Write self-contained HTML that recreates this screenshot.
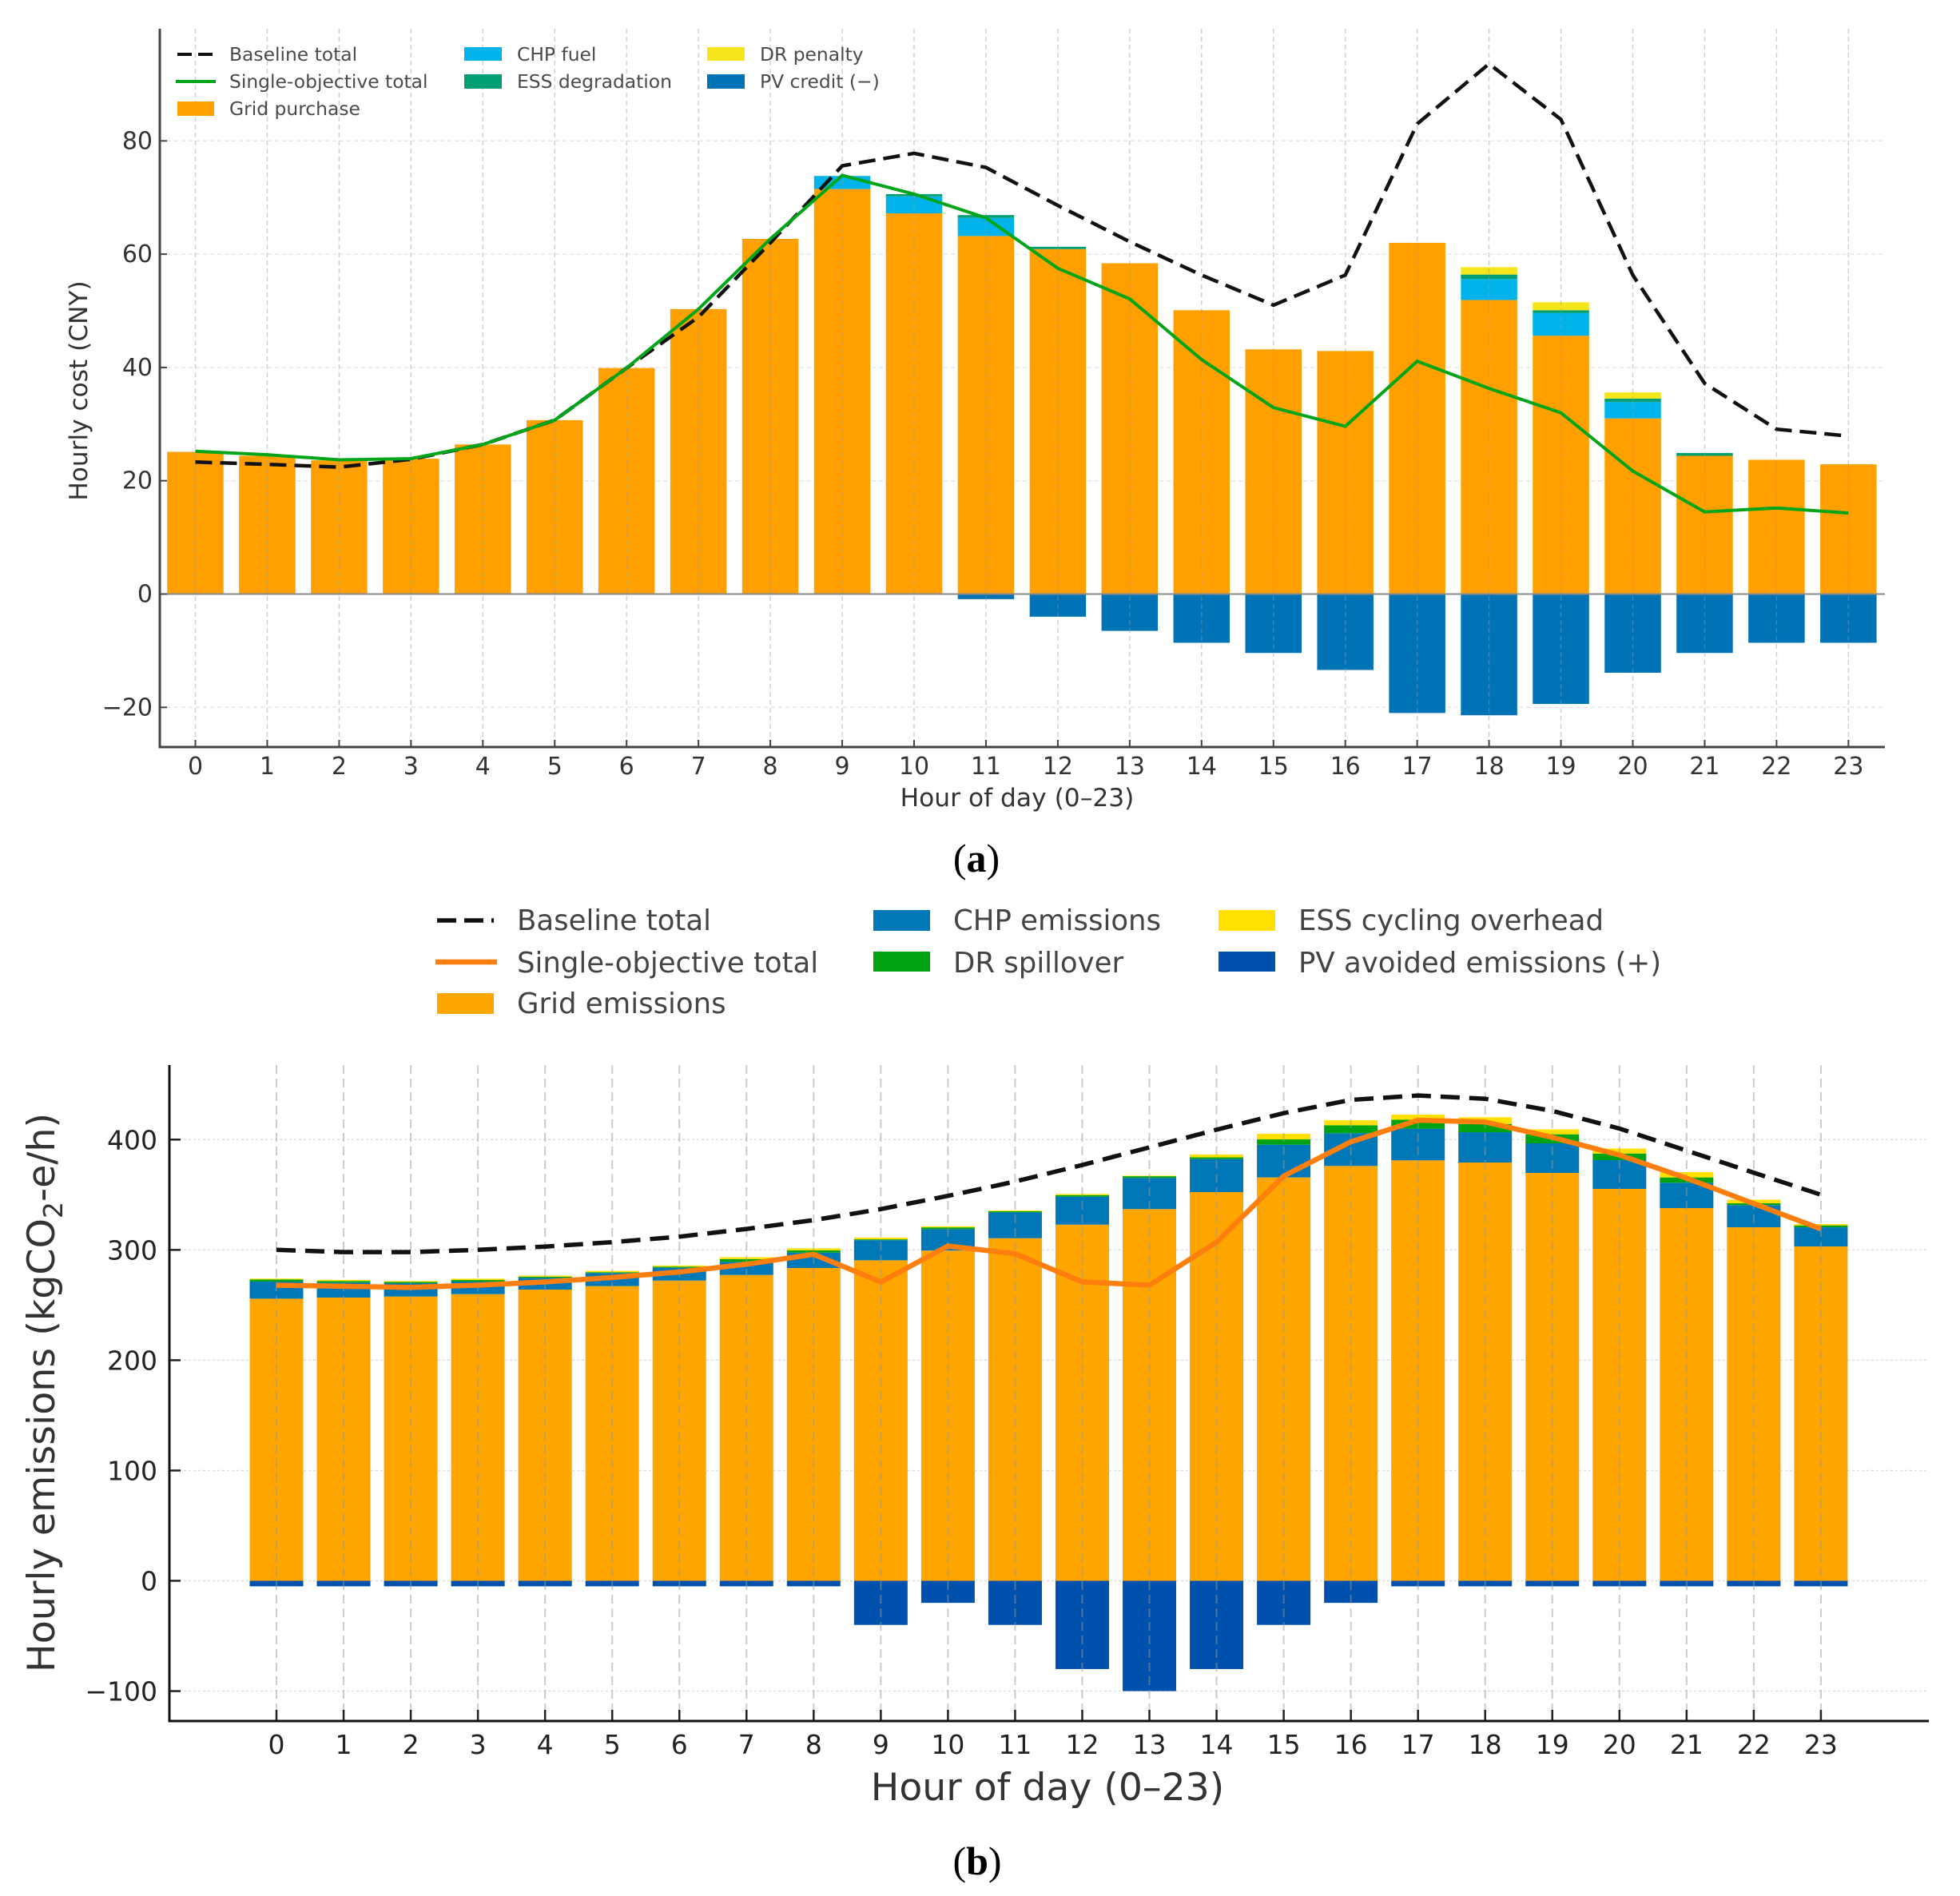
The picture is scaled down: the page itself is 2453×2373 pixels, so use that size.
<!DOCTYPE html>
<html lang="en">
<head>
<meta charset="utf-8">
<title>Hourly cost and emissions</title>
<style>
html,body{margin:0;padding:0;background:#fff;width:2453px;height:2373px;overflow:hidden}
svg{display:block}
text{font-family:"DejaVu Sans","Liberation Sans",sans-serif}
.leg-a{font-size:23.4px;fill:#4a4a4a}
.leg-b{font-size:35.5px;fill:#444}
.cap{font-family:"Liberation Serif",serif;font-size:50px;fill:#000}
</style>
</head>
<body>
<svg id="fig" xmlns="http://www.w3.org/2000/svg" width="2453" height="2373" viewBox="0 0 2453 2373">
  <g id="panel-a"></g>
  <g id="legend-a">
    <line x1="222" x2="267" y1="68" y2="68" stroke="#111" stroke-width="4" stroke-dasharray="18 8"/>
    <text class="leg-a" x="287" y="76">Baseline total</text>
    <line x1="220" x2="270" y1="102" y2="102" stroke="#00a51a" stroke-width="4"/>
    <text class="leg-a" x="287" y="110">Single-objective total</text>
    <rect x="222" y="127" width="46" height="18" fill="#ffa000"/>
    <text class="leg-a" x="287" y="144">Grid purchase</text>
    <rect x="581" y="59" width="47" height="17" fill="#00b4eb"/>
    <text class="leg-a" x="647" y="76">CHP fuel</text>
    <rect x="581" y="93" width="47" height="18" fill="#009e73"/>
    <text class="leg-a" x="647" y="110">ESS degradation</text>
    <rect x="885" y="59" width="47" height="17" fill="#f5e51b"/>
    <text class="leg-a" x="951" y="76">DR penalty</text>
    <rect x="885" y="93" width="47" height="18" fill="#0072b6"/>
    <text class="leg-a" x="951" y="110">PV credit (−)</text>
  </g>
  <text class="cap" x="1222" y="1091" text-anchor="middle">(<tspan font-weight="bold">a</tspan>)</text>
  <g id="legend-b">
    <line x1="547" x2="618" y1="1152" y2="1152" stroke="#111" stroke-width="5.5" stroke-dasharray="24 10"/>
    <text class="leg-b" x="647" y="1164">Baseline total</text>
    <line x1="545" x2="622" y1="1204" y2="1204" stroke="#ff7f0e" stroke-width="6.5"/>
    <text class="leg-b" x="647" y="1217">Single-objective total</text>
    <rect x="547" y="1243" width="71" height="26" fill="#ffa500"/>
    <text class="leg-b" x="647" y="1268">Grid emissions</text>
    <rect x="1093" y="1139" width="71" height="26" fill="#0077b6"/>
    <text class="leg-b" x="1193" y="1164">CHP emissions</text>
    <rect x="1093" y="1191" width="71" height="25" fill="#00a312"/>
    <text class="leg-b" x="1193" y="1217">DR spillover</text>
    <rect x="1525" y="1139" width="71" height="26" fill="#ffe000"/>
    <text class="leg-b" x="1625" y="1164">ESS cycling overhead</text>
    <rect x="1525" y="1191" width="71" height="25" fill="#0050ae"/>
    <text class="leg-b" x="1625" y="1217">PV avoided emissions (+)</text>
  </g>
  <g id="panel-b"></g>
  <text class="cap" x="1223" y="2346" text-anchor="middle">(<tspan font-weight="bold">b</tspan>)</text>
</svg>
<script>
const hours = [0,1,2,3,4,5,6,7,8,9,10,11,12,13,14,15,16,17,18,19,20,21,22,23];

const costYTicks = [-20,0,20,40,60,80];
const costGrid = [25.1,24.4,23.6,23.9,26.4,30.7,39.9,50.3,62.7,71.5,67.2,63.2,60.9,58.4,50.1,43.2,42.9,62.0,51.9,45.6,31.0,24.4,23.7,22.9];
const costChp = [0,0,0,0,0,0,0,0,0,2.3,3.0,3.2,0,0,0,0,0,0,3.7,4.0,2.9,0,0,0];
const costEss = [0,0,0,0,0,0,0,0,0,0,0.4,0.5,0.4,0,0,0,0,0,0.8,0.5,0.6,0.5,0,0];
const costDr = [0,0,0,0,0,0,0,0,0,0,0,0,0,0,0,0,0,0,1.3,1.4,1.1,0,0,0];
const costPv = [0,0,0,0,0,0,0,0,0,0,0,-0.9,-4.0,-6.5,-8.6,-10.4,-13.4,-21.0,-21.4,-19.4,-13.9,-10.4,-8.6,-8.6];
const costBaseline = [23.3,22.9,22.4,23.8,26.4,30.7,39.9,48.9,62.0,75.6,77.8,75.3,68.6,62.2,56.3,51.0,56.3,83.0,93.6,83.8,56.3,37.2,29.1,27.9];
const costSingle = [25.2,24.6,23.7,23.9,26.4,30.7,39.9,50.3,62.7,73.9,70.6,66.4,57.5,52.1,41.4,32.9,29.6,41.1,36.3,32.0,21.7,14.5,15.2,14.3];

const emisYTicks = [-100,0,100,200,300,400];
const emisGrid = [255.8,256.8,257.7,259.9,264,267.2,272.2,277.3,283.6,290.6,299.4,310.6,322.9,337,352.4,365.7,376.1,381.2,379.2,369.8,355.3,337.9,320.5,303.1];
const emisChp = [15.5,13.5,12.1,11.4,10.7,11.8,11.6,11.9,14,18.2,19.4,23.4,25.3,28.3,30,29.7,29.7,28.7,27.5,26.8,26.1,23,20.1,17.4];
const emisDr = [1.9,1.5,1.2,1.4,1,0.8,1,2.5,2,0.8,1.6,1,1.5,1.5,1.5,4.8,7.2,8.1,7.5,8.2,6,4.8,1.7,1.7];
const emisEss = [0.8,1,0.8,1.2,1,1.2,1.1,1.6,1.8,1.6,1,0.7,1,0.5,2.6,5,4.5,4.6,6,4.5,4.5,4.8,3.2,1.2];
const emisPv = [-5,-5,-5,-5,-5,-5,-5,-5,-5,-40,-20,-40,-80,-100,-80,-40,-20,-5,-5,-5,-5,-5,-5,-5];
const emisBaseline = [300,298,298,300,303,307,312,319,327,337,349,362,377,393,409,424,436,440,437,426,410,390,370,350];
const emisSingle = [268,267,266,268,271,275,280,287,296,271,303.5,296.5,271,268,307,367,398,417.6,416,402,386,365,342,319];

const SVGNS = 'http://www.w3.org/2000/svg';
function make(parent, tag, props, content) {
  const node = document.createElementNS(SVGNS, tag);
  for (const key in props) node.setAttribute(key, props[key]);
  if (content !== undefined) node.textContent = content;
  parent.appendChild(node);
  return node;
}
function minus(v) { return String(v).replace('-', '\u2212'); }
function pathOf(values, xf, yf) {
  return values.map((v, i) => (i ? 'L' : 'M') + xf(hours[i]).toFixed(1) + ' ' + yf(v).toFixed(1)).join(' ');
}

function drawCost() {
  const root = document.getElementById('panel-a');
  const L = 200, R = 2359, T = 36, B = 935;
  const xf = h => 244.5 + h * 89.95;
  const yf = v => 743.5 - v * 7.09;
  const bw = 70.5;
  costYTicks.forEach(t => {
    const g = make(root, 'line', {x1:L, x2:R, y1:yf(t), y2:yf(t), stroke:'#e6e6e6', 'stroke-width':1.5, 'stroke-dasharray':'5 4'});
    
    
  });
  hours.forEach((h, i) => {
    let base = 0;
    [[costGrid,'#ffa000','grid'],[costChp,'#00b4eb','chp'],[costEss,'#009e73','ess'],[costDr,'#f5e51b','dr']].forEach(s => {
      const v = s[0][i];
      if (v > 0) {
        const r = make(root, 'rect', {x:xf(h)-bw/2, width:bw, y:yf(base+v), height:yf(base)-yf(base+v), fill:s[1]});
        
        
      }
      base += v;
    });
    if (costPv[i] < 0) {
      const r = make(root, 'rect', {x:xf(h)-bw/2, width:bw, y:yf(0), height:yf(costPv[i])-yf(0), fill:'#0072b6'});
      
      
    }
    const g = make(root, 'line', {x1:xf(h), x2:xf(h), y1:T, y2:B, stroke:'#999', 'stroke-opacity':.45, 'stroke-width':1.5, 'stroke-dasharray':'6 4'});
    
    
    const t = make(root, 'line', {x1:xf(h), x2:xf(h), y1:B-9, y2:B, stroke:'#444', 'stroke-width':2});
    
    
    const lab = make(root, 'text', {x:xf(h), y:969, 'text-anchor':'middle', 'font-size':30, fill:'#333'}, h);
    
    
  });
  const zero = make(root, 'line', {x1:L, x2:R, y1:yf(0), y2:yf(0), stroke:'#8a8a8a', 'stroke-width':2});
  
  
  const base = make(root, 'path', {d:pathOf(costBaseline, xf, yf), fill:'none', stroke:'#111', 'stroke-width':4.5, 'stroke-dasharray':'21 10'});
  
  
  const single = make(root, 'path', {d:pathOf(costSingle, xf, yf), fill:'none', stroke:'#00a51a', 'stroke-width':4});
  
  
  costYTicks.forEach(t => {
    const m = make(root, 'line', {x1:L, x2:L+9, y1:yf(t), y2:yf(t), stroke:'#444', 'stroke-width':2});
    
    
    const lab = make(root, 'text', {x:191, y:yf(t)+10, 'text-anchor':'end', 'font-size':30, fill:'#333'}, minus(t));
    
    
  });
  const ax = make(root, 'path', {d:'M'+L+' '+T+' V'+B+' H'+R, fill:'none', stroke:'#444', 'stroke-width':3});
  
  
  const xl = make(root, 'text', {x:1273, y:1009, 'text-anchor':'middle', 'font-size':31.3, fill:'#333'}, 'Hour of day (0\u201323)');
  
  
  const yl = make(root, 'text', {x:0, y:0, transform:'translate(109 489) rotate(-90)', 'text-anchor':'middle', 'font-size':31.2, fill:'#333'}, 'Hourly cost (CNY)');
  
  
}

function drawEmissions() {
  const root = document.getElementById('panel-b');
  const L = 212, R = 2414, T = 1333, B = 2154;
  const xf = h => 346 + h * 84.04;
  const yf = v => 1978.5 - v * 1.3805;
  const bw = 67;
  emisYTicks.forEach(t => {
    const g = make(root, 'line', {x1:L, x2:R, y1:yf(t), y2:yf(t), stroke:'#dedede', 'stroke-width':1.5, 'stroke-dasharray':'3 3'});
    
    
  });
  hours.forEach((h, i) => {
    let base = 0;
    [[emisGrid,'#ffa500','grid'],[emisChp,'#0077b6','chp'],[emisDr,'#00a312','dr'],[emisEss,'#ffe000','ess']].forEach(s => {
      const v = s[0][i];
      const r = make(root, 'rect', {x:xf(h)-bw/2, width:bw, y:yf(base+v), height:yf(base)-yf(base+v), fill:s[1]});
      
      
      base += v;
    });
    const p = make(root, 'rect', {x:xf(h)-bw/2, width:bw, y:yf(0), height:yf(emisPv[i])-yf(0), fill:'#0050ae'});
    
    
    const g = make(root, 'line', {x1:xf(h), x2:xf(h), y1:T, y2:B, stroke:'#999', 'stroke-opacity':.5, 'stroke-width':2, 'stroke-dasharray':'11 6'});
    
    
    const t = make(root, 'line', {x1:xf(h), x2:xf(h), y1:B-14, y2:B, stroke:'#222', 'stroke-width':2.5});
    
    
    const lab = make(root, 'text', {x:xf(h), y:2195, 'text-anchor':'middle', 'font-size':33, fill:'#222'}, h);
    
    
  });
  const base = make(root, 'path', {d:pathOf(emisBaseline, xf, yf), fill:'none', stroke:'#111', 'stroke-width':5.5, 'stroke-dasharray':'24 12'});
  
  
  const single = make(root, 'path', {d:pathOf(emisSingle, xf, yf), fill:'none', stroke:'#ff7f0e', 'stroke-width':6.5});
  
  
  emisYTicks.forEach(t => {
    const m = make(root, 'line', {x1:L, x2:L+14, y1:yf(t), y2:yf(t), stroke:'#222', 'stroke-width':2.5});
    
    
    const lab = make(root, 'text', {x:197, y:yf(t)+12, 'text-anchor':'end', 'font-size':33, fill:'#222'}, minus(t));
    
    
  });
  const ax = make(root, 'path', {d:'M'+L+' '+T+' V'+B+' H'+R, fill:'none', stroke:'#111', 'stroke-width':3});
  
  
  const xl = make(root, 'text', {x:1311, y:2253, 'text-anchor':'middle', 'font-size':47.3, fill:'#333'}, 'Hour of day (0\u201323)');
  
  
  const yl = make(root, 'text', {x:0, y:0, transform:'translate(68 1743) rotate(-90)', 'text-anchor':'middle', 'font-size':47.5, fill:'#333'});
  
  
  make(yl, 'tspan', {}, 'Hourly emissions (kgCO');
  make(yl, 'tspan', {dy:10, 'font-size':33}, '2');
  make(yl, 'tspan', {dy:-10}, '-e/h)');
}

drawCost();
drawEmissions();
</script>
</body>
</html>
